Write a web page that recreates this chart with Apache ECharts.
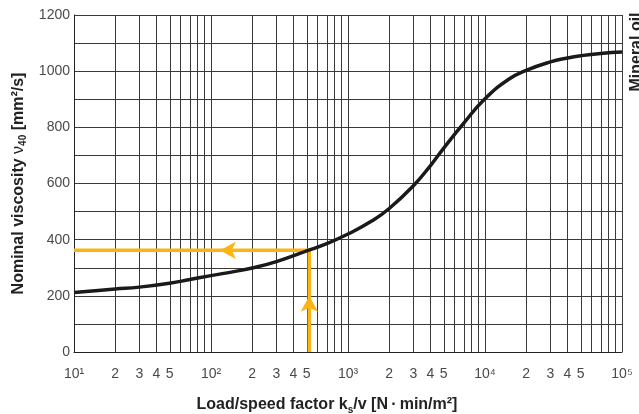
<!DOCTYPE html>
<html>
<head>
<meta charset="utf-8">
<script src="https://cdn.jsdelivr.net/npm/echarts@6/dist/echarts.min.js"></script>
<style>
html, body { margin: 0; padding: 0; background: #fff; }
#chart { width: 639px; height: 414px; }
</style>
</head>
<body>
<div id="chart"></div>
<script>
// load/speed factor (log axis) and nominal viscosity
var loadFactor = [10, 15, 20, 30, 50, 70, 100, 150, 200, 300, 500, 700, 1000, 1500, 2000, 3000, 4000, 5000, 7000, 10000, 15000, 20000, 30000, 40000, 50000, 70000, 100000];
var viscosity = [212, 219, 224, 231, 245, 258, 272, 287, 299, 322, 360, 386, 420, 467, 511, 592, 664, 726, 815, 902, 972, 1003, 1033, 1047, 1055, 1063, 1068];

// example reading (yellow lines)
var readX = 522;
var readY = 362;
var readStartX = 10;
var arrowUpY = 200;
var arrowLeftX = 116;

// x tick labels
var xTicks = [10, 20, 30, 40, 50, 100, 200, 300, 400, 500, 1000, 2000, 3000, 4000, 5000, 10000, 20000, 30000, 40000, 50000, 100000];
var supDigits = { 1: '\u00b9', 2: '\u00b2', 3: '\u00b3', 4: '\u2074', 5: '\u2075' };

var curveData = loadFactor.map(function (x, i) { return [x, viscosity[i]]; });
var readData = [[readX, 0], [readX, readY], [readStartX, readY]];

var labelColor = '#4a4a4a';
var gridColor = '#3a3a3a';
var yellow = '#fbb416';
var fontFam = '"Liberation Sans", Arial, Helvetica, sans-serif';

var myChart = echarts.init(document.getElementById('chart'));

var option = {
    animation: false,
    textStyle: { fontFamily: fontFam },
    grid: { left: 74, right: 17, top: 15, bottom: 62, outerBoundsMode: 'none', containLabel: false },
    xAxis: [{
        type: 'log',
        logBase: 10,
        min: 10,
        max: 100000,
        name: '{b|Load/speed factor k}{sub|s}{b|/v [N\u2009\u00b7\u2009min/m\u00b2]}',
        nameLocation: 'middle',
        nameGap: 43,
        nameTextStyle: {
            padding: [0, 42, 0, 0],
            rich: {
                b: { fontSize: 16, fontWeight: 'bold', color: '#222', fontFamily: fontFam },
                sub: { fontSize: 10, fontWeight: 'bold', color: '#222', padding: [10, 0, 0, 0], fontFamily: fontFam }
            }
        },
        axisLine: { show: true, lineStyle: { color: '#222', width: 1 } },
        axisTick: { show: false },
        axisLabel: { show: false },
        splitLine: { show: true, lineStyle: { color: gridColor, width: 1 } },
        minorTick: { show: false, splitNumber: 9 },
        minorSplitLine: { show: true, lineStyle: { color: gridColor, width: 1 } }
    }, {
        type: 'value',
        min: 1,
        max: 5,
        position: 'bottom',
        axisLine: { show: false },
        axisTick: { show: false },
        splitLine: { show: false },
        axisLabel: {
            customValues: xTicks.map(function (v) { return Math.log10(v); }),
            margin: 15,
            color: labelColor,
            fontSize: 14,
            formatter: function (v) {
                var n = Math.round(Math.pow(10, v));
                var p = Math.round(Math.log10(n));
                if (Math.pow(10, p) === n) return '10' + supDigits[p];
                return String(Math.round(n / Math.pow(10, Math.floor(Math.log10(n)))));
            }
        }
    }],
    yAxis: {
        type: 'value',
        min: 0,
        max: 1200,
        interval: 100,
        name: '{b|Nominal viscosity }{g|\u03bd}{sub|40}{b| [mm\u00b2/s]}',
        nameLocation: 'middle',
        nameGap: 35,
        nameTextStyle: {
            rich: {
                b: { fontSize: 16, fontWeight: 'bold', color: '#222', fontFamily: fontFam },
                g: { fontSize: 16, color: '#222', fontFamily: fontFam },
                sub: { fontSize: 10, fontWeight: 'bold', color: '#222', padding: [9, 0, 0, 0], fontFamily: fontFam }
            }
        },
        axisLine: { show: true, lineStyle: { color: '#222', width: 1 } },
        axisTick: { show: false },
        axisLabel: {
            margin: 4,
            color: labelColor,
            fontSize: 14,
            formatter: function (v) { return v % 200 === 0 ? String(v) : ''; }
        },
        splitLine: { show: true, lineStyle: { color: gridColor, width: 1 } }
    },
    graphic: [{
        type: 'text',
        x: 629,
        y: 52,
        rotation: Math.PI / 2,
        style: {
            text: 'Mineral oil',
            x: 0,
            y: 0,
            align: 'center',
            verticalAlign: 'top',
            fill: '#222',
            font: 'bold 16px ' + fontFam
        }
    }],
    series: [{
        name: 'reading',
        type: 'line',
        xAxisIndex: 0,
        data: readData,
        showSymbol: false,
        symbol: 'none',
        lineStyle: { color: yellow, width: 3.5 },
        z: 3
    }, {
        name: 'arrows',
        type: 'scatter',
        xAxisIndex: 0,
        data: [
            { value: [readX, arrowUpY], symbolRotate: 0 },
            { value: [arrowLeftX, readY], symbolRotate: 90 }
        ],
        symbol: 'arrow',
        symbolSize: [13, 16],
        itemStyle: { color: yellow, opacity: 1 },
        z: 4
    }, {
        name: 'viscosity',
        type: 'line',
        xAxisIndex: 0,
        data: curveData,
        smooth: 0.5,
        showSymbol: false,
        symbol: 'none',
        lineStyle: { color: '#1a1a1a', width: 3.5 },
        z: 5
    }]
};

myChart.setOption(option);
window.addEventListener("resize", function () {
    myChart.resize();
});
</script>
</body>
</html>
